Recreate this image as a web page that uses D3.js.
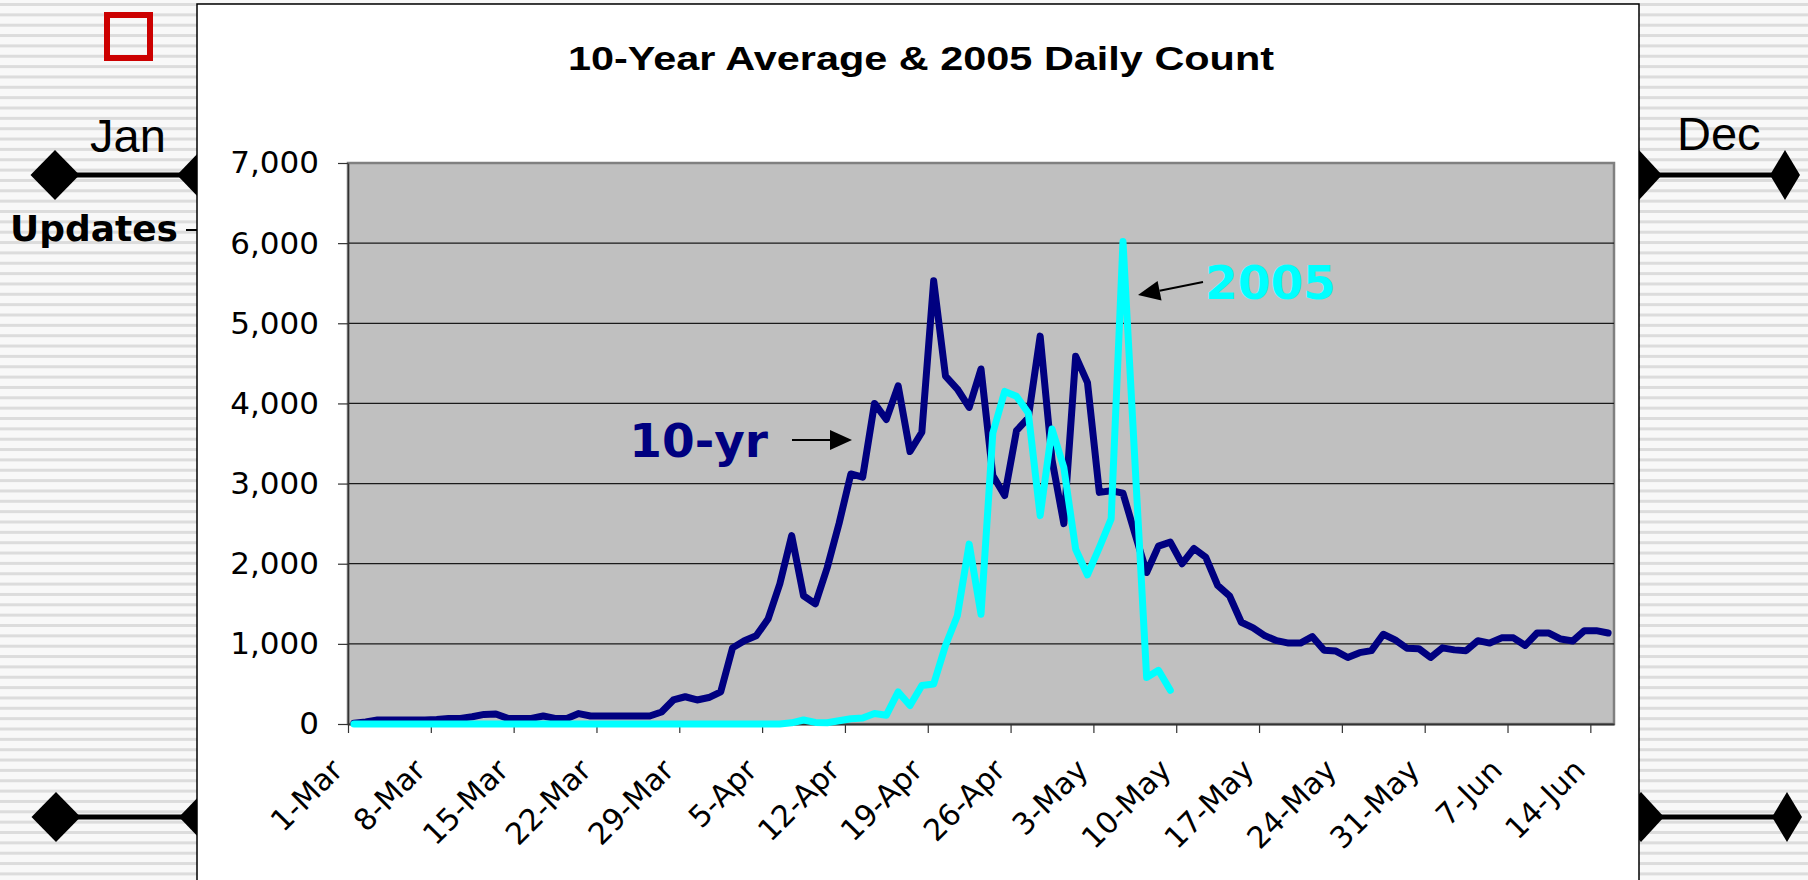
<!DOCTYPE html>
<html><head><meta charset="utf-8">
<script src="https://cdn.jsdelivr.net/npm/d3@7"></script>
<style>html,body{margin:0;padding:0;background:#fff;overflow:hidden;} svg{display:block;}</style>
</head><body>
<svg id="c" width="1808" height="880"></svg>
<script>
// ---- data ----
const chartTitle = "10-Year Average & 2005 Daily Count";
const tickLabels = ["1-Mar","8-Mar","15-Mar","22-Mar","29-Mar","5-Apr","12-Apr","19-Apr","26-Apr","3-May","10-May","17-May","24-May","31-May","7-Jun","14-Jun"];
const yTicks = [0,1000,2000,3000,4000,5000,6000,7000];
const categories = d3.utcDay.range(new Date(Date.UTC(2005,2,1)), new Date(Date.UTC(2005,5,16))).map(d3.utcFormat("%-d-%b"));
const tenYr = [10,25,50,50,50,50,50,55,70,70,90,120,125,70,70,70,100,70,70,130,
  100,100,100,100,100,100,150,300,340,300,330,400,950,1040,1100,1310,1750,2350,1600,1500,
  1950,2500,3120,3080,4000,3800,4220,3400,3640,5530,4340,4180,3950,4430,3100,2850,3660,3820,4840,3300,
  2500,4590,4260,2890,2910,2880,2380,1890,2220,2270,2000,2190,2080,1730,1600,1270,1200,1100,1040,1010,
  1010,1090,920,910,830,890,915,1120,1050,945,940,830,950,925,915,1040,1010,1075,1075,980,
  1135,1135,1060,1035,1165,1165,1135];
const y2005 = [0,0,0,0,0,0,0,0,0,0,0,0,0,0,0,0,0,0,0,0,
  0,0,0,0,0,0,0,0,0,0,0,0,0,0,0,0,0,15,50,20,
  15,40,65,75,130,110,400,230,480,500,980,1350,2245,1370,3630,4150,4090,3880,2600,3680,
  3200,2180,1860,2200,2560,6020,3300,580,670,420];
const labelTen = "10-yr", label05 = "2005";

// ---- drawing ----
const svg = d3.select("#c");
svg.append("rect").attr("width",1808).attr("height",880).attr("fill","#f8f8f8");
svg.append("g").selectAll("rect").data(d3.range(3, 880, 10.35)).join("rect")
  .attr("x",0).attr("y",d=>d).attr("width",1808).attr("height",3).attr("fill","#dcdcdc");

function diamond(cx, cy, w, h){ return `M${cx-w/2},${cy}L${cx},${cy-h/2}L${cx+w/2},${cy}L${cx},${cy+h/2}Z`; }
const deco = svg.append("g");
[[175,55,201,1639,1785],[817,56,203,1641,1787]].forEach(([cy,a,b,c,d])=>{
  deco.append("line").attr("x1",a).attr("x2",b).attr("y1",cy).attr("y2",cy).attr("stroke","#000").attr("stroke-width",5);
  deco.append("line").attr("x1",c).attr("x2",d).attr("y1",cy).attr("y2",cy).attr("stroke","#000").attr("stroke-width",5);
  deco.append("path").attr("d",diamond(a,cy,49,50)).attr("fill","#000");
  deco.append("path").attr("d",diamond(b,cy,48,50)).attr("fill","#000");
  deco.append("path").attr("d",diamond(c,cy,46,50)).attr("fill","#000");
  deco.append("path").attr("d",diamond(d,cy,30,50)).attr("fill","#000");
});

// chart box
svg.append("rect").attr("x",197).attr("y",4).attr("width",1442).attr("height",900)
  .attr("fill","#fff").attr("stroke","#000").attr("stroke-width",1.5);

// side texts
svg.append("rect").attr("x",107).attr("y",15).attr("width",43).attr("height",43)
  .attr("fill","none").attr("stroke","#cc0000").attr("stroke-width",6);
svg.append("text").attr("x",90).attr("y",152).attr("font-family","Liberation Sans, Arial, sans-serif")
  .attr("font-size",47).attr("fill","#000").text("Jan");
svg.append("text").attr("x",1677).attr("y",150).attr("font-family","Liberation Sans, Arial, sans-serif")
  .attr("font-size",47).attr("fill","#000").text("Dec");
svg.append("text").attr("x",10).attr("y",241).attr("font-family","DejaVu Sans, Verdana, sans-serif")
  .attr("font-weight","bold").attr("font-size",36).attr("textLength",168).attr("lengthAdjust","spacingAndGlyphs")
  .attr("fill","#000").text("Updates");
svg.append("line").attr("x1",186).attr("x2",197).attr("y1",230).attr("y2",230).attr("stroke","#000").attr("stroke-width",2);

// title
svg.append("text").attr("x",921).attr("y",70).attr("text-anchor","middle")
  .attr("font-family","Liberation Sans, Arial, sans-serif").attr("font-weight","bold")
  .attr("font-size",33).attr("textLength",706).attr("lengthAdjust","spacingAndGlyphs").text(chartTitle);

// scales
const x = d3.scaleLinear().domain([0, categories.length]).range([348, 1614]);
const y = d3.scaleLinear().domain([0, 7000]).range([724, 163]);

// plot area
svg.append("rect").attr("x",x(0)).attr("y",y(7000)).attr("width",x(categories.length)-x(0)).attr("height",y(0)-y(7000))
  .attr("fill","#c0c0c0").attr("stroke","#808080").attr("stroke-width",2.5);
svg.append("g").selectAll("line").data(yTicks.filter(v=>v>0 && v<7000)).join("line")
  .attr("x1",x(0)).attr("x2",x(categories.length)).attr("y1",d=>y(d)).attr("y2",d=>y(d))
  .attr("stroke","#1a1a1a").attr("stroke-width",1.2);

// axes
const yAxis = svg.append("g").attr("transform",`translate(${x(0)},0)`)
  .call(d3.axisLeft(y).tickValues(yTicks).tickFormat(d3.format(",")).tickSize(10).tickSizeOuter(0).tickPadding(19));
yAxis.select(".domain").attr("stroke","#333").attr("stroke-width",1.5);
yAxis.selectAll(".tick line").attr("stroke","#333").attr("stroke-width",1.2);
yAxis.selectAll("text").attr("font-family","DejaVu Sans, Verdana, sans-serif").attr("font-size",31).attr("fill","#000");

const xTickIdx = tickLabels.map((_,k)=>k*7);
const xAxis = svg.append("g").attr("transform",`translate(0,${y(0)})`)
  .call(d3.axisBottom(x).tickValues(xTickIdx).tickFormat((d,k)=>tickLabels[k]).tickSize(9).tickSizeOuter(0));
xAxis.select(".domain").attr("stroke","#333").attr("stroke-width",2);
xAxis.selectAll(".tick line").attr("stroke","#333").attr("stroke-width",1.2);
xAxis.selectAll("text").attr("font-family","DejaVu Sans, Verdana, sans-serif").attr("font-size",30).attr("fill","#000")
  .attr("text-anchor","end").attr("x",0).attr("y",0).attr("dy",0)
  .attr("transform","translate(-4,48) rotate(-45)");

// lines
const line = d3.line().x((d,i)=>x(i+0.5)).y(d=>y(d));
svg.append("path").datum(tenYr).attr("d",line).attr("fill","none").attr("stroke","#000080")
  .attr("stroke-width",7).attr("stroke-linejoin","round").attr("stroke-linecap","round");
svg.append("path").datum(y2005).attr("d",line).attr("fill","none").attr("stroke","#00ffff")
  .attr("stroke-width",7).attr("stroke-linejoin","round").attr("stroke-linecap","round");

// annotations
svg.append("text").attr("x",768).attr("y",457).attr("text-anchor","end")
  .attr("font-family","DejaVu Sans, Verdana, sans-serif").attr("font-weight","bold").attr("font-size",47)
  .attr("fill","#000080").text(labelTen);
svg.append("text").attr("x",1205).attr("y",299)
  .attr("font-family","DejaVu Sans, Verdana, sans-serif").attr("font-weight","bold").attr("font-size",47)
  .attr("fill","#00ffff").text(label05);
function arrow(x1,y1,x2,y2){
  const a = Math.atan2(y2-y1,x2-x1), L=22, W=10;
  const bx = x2 - L*Math.cos(a), by = y2 - L*Math.sin(a);
  svg.append("line").attr("x1",x1).attr("y1",y1).attr("x2",bx).attr("y2",by).attr("stroke","#000").attr("stroke-width",2);
  svg.append("path").attr("d",`M${x2},${y2}L${bx - W*Math.sin(a)},${by + W*Math.cos(a)}L${bx + W*Math.sin(a)},${by - W*Math.cos(a)}Z`).attr("fill","#000");
}
arrow(792,440,852,440);
arrow(1203,282,1138,295);
</script>
</body></html>
